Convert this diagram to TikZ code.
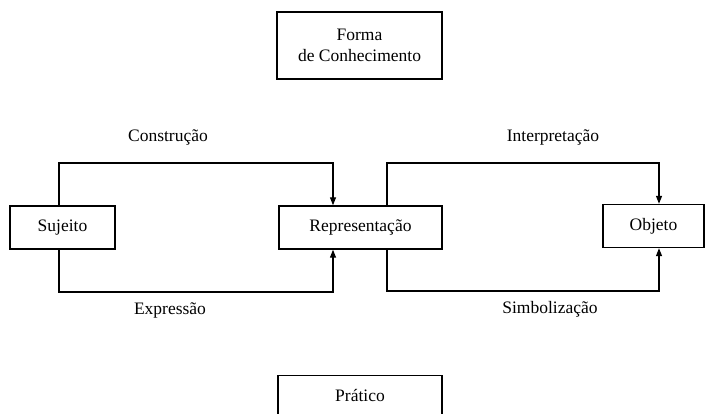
\documentclass[tikz,border=0pt]{standalone}
\usepackage{fontspec}
\setmainfont{Liberation Serif}
\usetikzlibrary{arrows.meta}
\begin{document}
\begin{tikzpicture}[x=1pt,y=-1pt,
  box/.style={draw, line width=1.4pt, inner sep=0pt, font=\fontsize{17.5}{21}\selectfont, align=center},
  lbl/.style={font=\fontsize{17.5}{21}\selectfont, inner sep=0pt},
  conn/.style={line width=1.2pt},
  arr/.style={conn, -{Triangle[length=8pt,width=6pt]}}]
\useasboundingbox (0,0) rectangle (706,414);
\node[box, minimum width=165pt, minimum height=67pt] (form) at (359.5,45.5) {Forma\\de Conhecimento};
\node[box, minimum width=105pt, minimum height=43pt] (suj) at (62.5,227.5) {Sujeito};
\node[box, minimum width=163pt, minimum height=43pt] (rep) at (360.5,227.5) {Representação};
\node[box, minimum width=101pt, minimum height=43pt] (obj) at (653.5,226) {Objeto};
\node[box, minimum width=164pt, minimum height=60pt, anchor=north] (prat) at (360,375) {};
\node[lbl] (pratt) at (360,395) {Prático};
\coordinate (c1) at (59,163);
\coordinate (c2) at (333,163);
\coordinate (c3) at (59,292);
\coordinate (c4) at (333,292);
\coordinate (c5) at (387,163);
\coordinate (c6) at (659,163);
\coordinate (c7) at (387,291);
\coordinate (c8) at (659,291);
\draw[arr] (suj.north -| c1) -- (c1) -- (c2) -- (rep.north -| c2);
\draw[arr] (suj.south -| c3) -- (c3) -- (c4) -- (rep.south -| c4);
\draw[arr] (rep.north -| c5) -- (c5) -- (c6) -- (obj.north -| c6);
\draw[arr] (rep.south -| c7) -- (c7) -- (c8) -- (obj.south -| c8);
\node[lbl] (l1) at (168,137) {Construção};
\node[lbl] (l2) at (170,310) {Expressão};
\node[lbl] (l3) at (553,137) {Interpretação};
\node[lbl] (l4) at (550,309) {Simbolização};
\end{tikzpicture}
\end{document}
